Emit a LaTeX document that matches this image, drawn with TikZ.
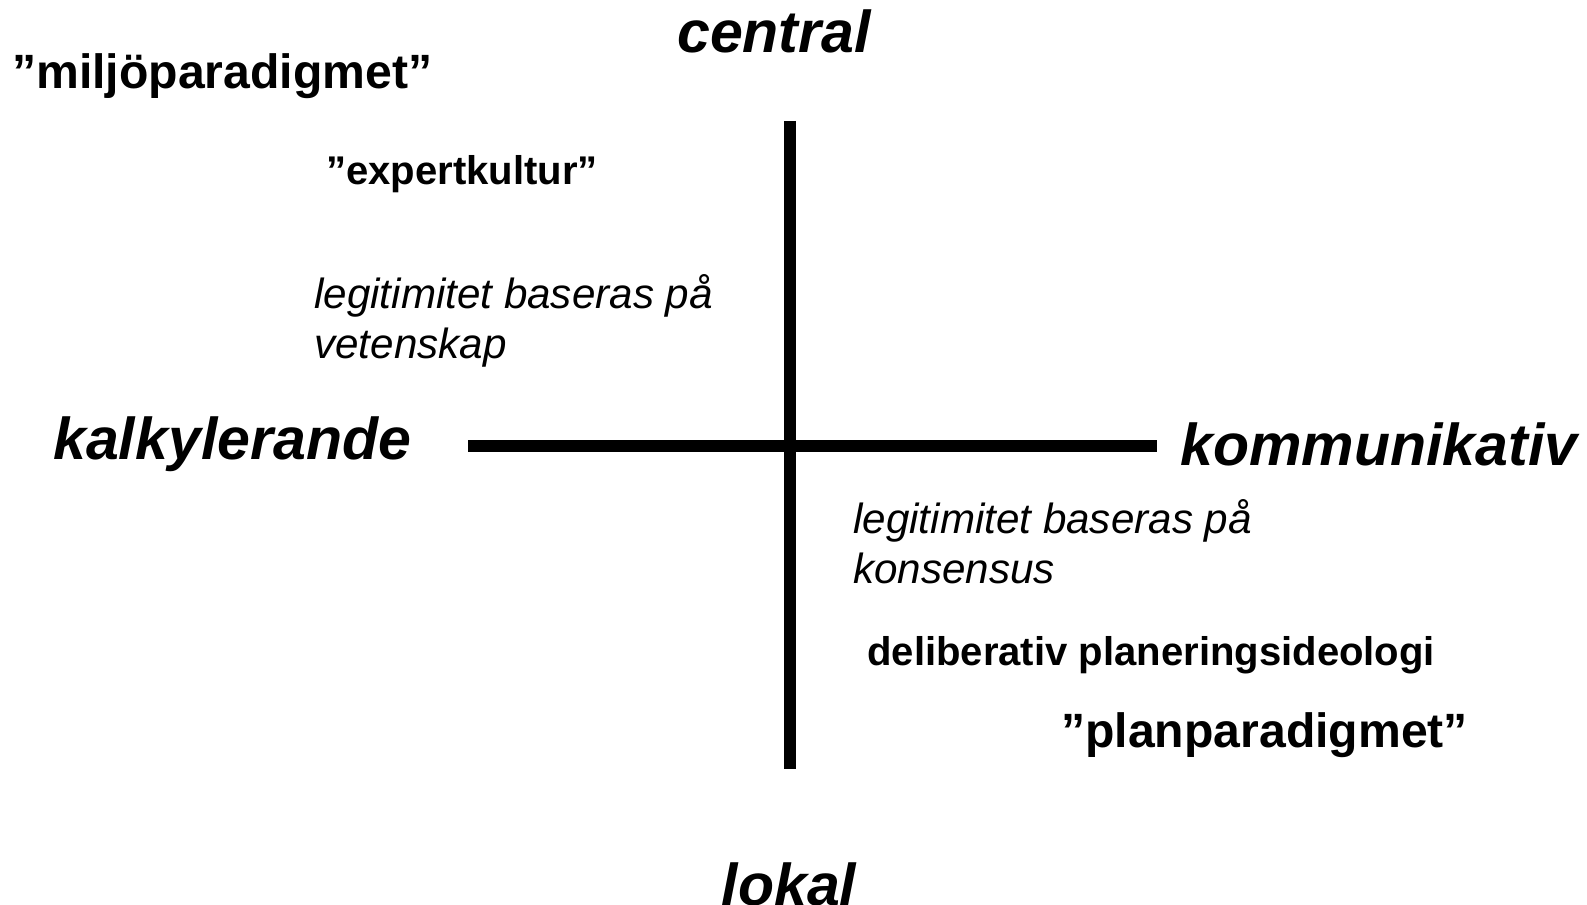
\documentclass[tikz,border=0pt]{standalone}
\usepackage{fontspec}
\setmainfont{Liberation Sans}
\begin{document}
\begin{tikzpicture}[x=0.02cm,y=-0.02cm,
    axis/.style={line width=6.8pt},
    pole/.style={font=\fontsize{33.6}{40}\selectfont\bfseries\itshape, anchor=base west, inner sep=0pt},
    paradigm/.style={font=\fontsize{27.4}{32}\selectfont\bfseries, anchor=base west, inner sep=0pt},
    ideology/.style={font=\fontsize{22.8}{27}\selectfont\bfseries, anchor=base west, inner sep=0pt},
    claim/.style={font=\fontsize{24}{28.7}\selectfont\itshape, anchor=base west, align=left, inner sep=0pt}]
  \useasboundingbox (0,0) rectangle (1587,905);

  % axes
  \coordinate (top) at (790,121);
  \coordinate (bottom) at (790,769);
  \coordinate (left) at (468,446);
  \coordinate (right) at (1157,446);
  \draw[axis] (left) -- (right);
  \draw[axis] (top) -- (bottom);

  % poles
  \node[pole, anchor=base] (central) at (774,53) {central};
  \node[pole, anchor=base] (lokal) at (789,905) {lokal};
  \node[pole] (kalkylerande) at (53,460) {kalkylerande};
  \node[pole] (kommunikativ) at (1180,466) {kommunikativ};

  % upper left quadrant
  \node[paradigm] (miljo) at (12,89) {”miljöparadigmet”};
  \node[ideology] (expert) at (326,185) {”expertkultur”};
  \node[claim] (vetenskap) at (314,359) {legitimitet baseras på\\vetenskap};

  % lower right quadrant
  \node[claim] (konsensus) at (853,584) {legitimitet baseras på\\konsensus};
  \node[ideology] (delib) at (867,665) {deliberativ planeringsideologi};
  \node[paradigm] (plan) at (1061,747) {”planparadigmet”};
\end{tikzpicture}
\end{document}
